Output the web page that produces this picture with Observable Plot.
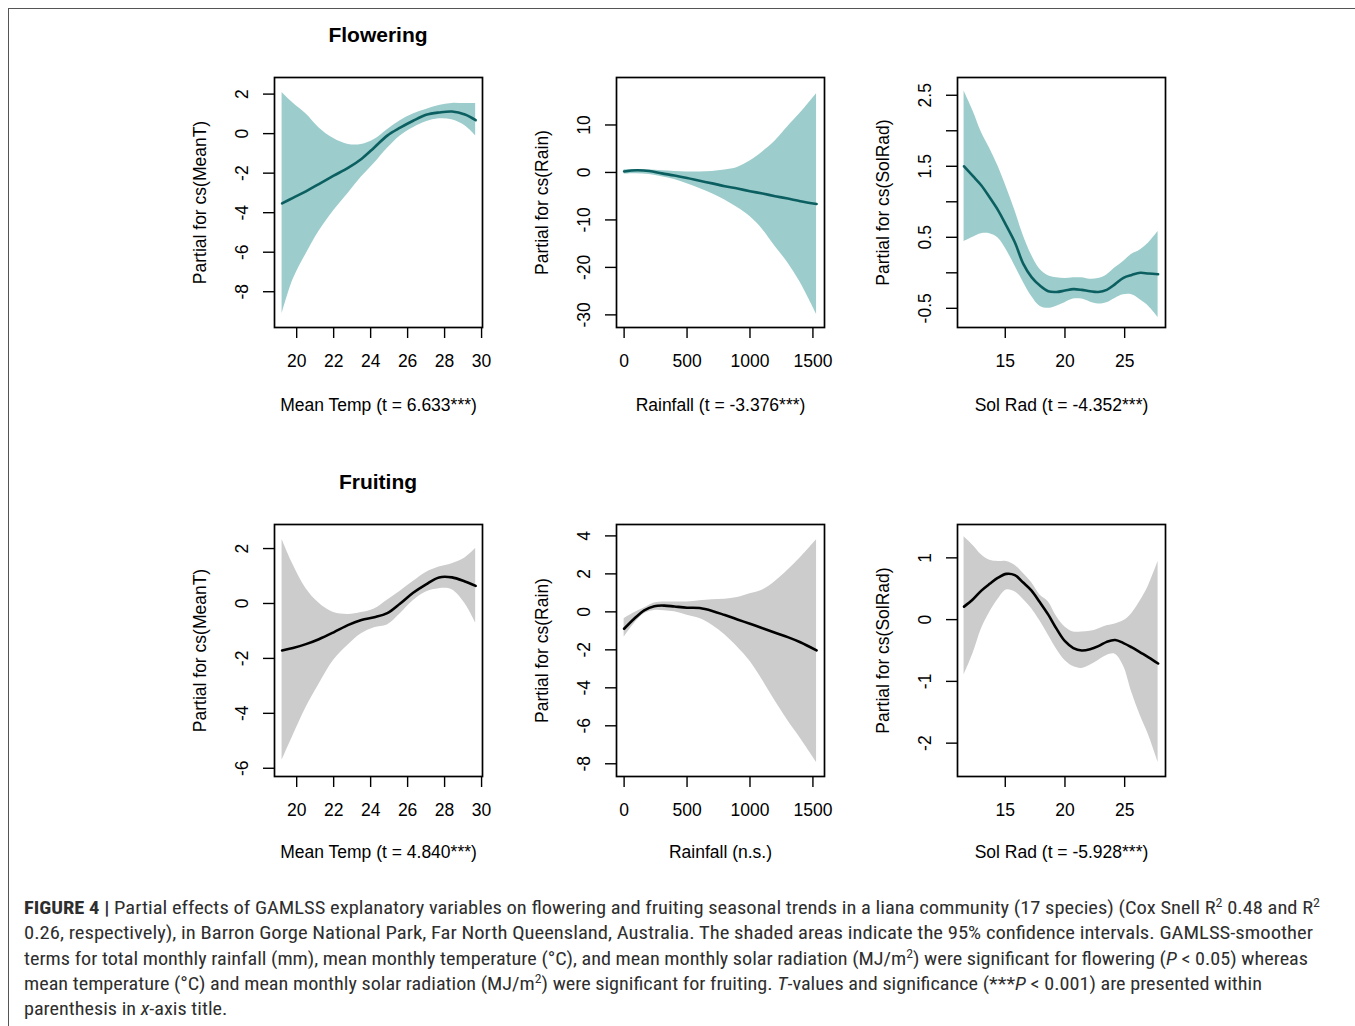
<!DOCTYPE html>
<html><head><meta charset="utf-8">
<script src="https://cdn.jsdelivr.net/npm/d3@7"></script>
<script src="https://cdn.jsdelivr.net/npm/@observablehq/plot@0.6"></script>
<style>
body{margin:0;background:#fff;}
#page{position:relative;width:1355px;height:1026px;overflow:hidden;font-family:"Liberation Sans",Arial,sans-serif;background:#fff;}
#frame{position:absolute;left:8px;top:8px;width:1400px;height:1100px;border-top:1.5px solid #555;border-left:1.5px solid #555;}
.title{position:absolute;font-weight:bold;font-size:21px;line-height:24px;width:208px;text-align:center;color:#000;}
.panel{position:absolute;}
#caption{position:absolute;left:24px;top:895px;font-family:"Liberation Sans Narrow","Roboto Condensed",Roboto,sans-serif;font-size:18px;line-height:25.3px;color:#2e2e2e;}
#caption div{white-space:nowrap;transform-origin:0 50%;width:max-content;}
#caption sup{font-size:0.68em;vertical-align:0.55em;line-height:0;}
</style>
</head><body>
<div id="page">
  <div id="frame"></div>
  <div class="title" style="left:274px;top:23px;">Flowering</div>
  <div class="title" style="left:274px;top:470px;">Fruiting</div>
  <div id="caption">
    <div><b>FIGURE 4 |</b> Partial effects of GAMLSS explanatory variables on flowering and fruiting seasonal trends in a liana community (17 species) (Cox Snell R<sup>2</sup> 0.48 and R<sup>2</sup></div>
    <div>0.26, respectively), in Barron Gorge National Park, Far North Queensland, Australia. The shaded areas indicate the 95% confidence intervals. GAMLSS-smoother</div>
    <div>terms for total monthly rainfall (mm), mean monthly temperature (°C), and mean monthly solar radiation (MJ/m<sup>2</sup>) were significant for flowering (<i>P</i> &lt; 0.05) whereas</div>
    <div>mean temperature (°C) and mean monthly solar radiation (MJ/m<sup>2</sup>) were significant for fruiting. <i>T</i>-values and significance (***<i>P</i> &lt; 0.001) are presented within</div>
    <div>parenthesis in <i>x</i>-axis title.</div>
  </div>
</div>
<script>
// ---------- Flowering: Mean Temp ----------
const flowTempX   = [19.21, 19.8, 20.5, 21.2, 22, 22.8, 23.5, 24.2, 24.9, 25.6, 26.3, 27, 27.7, 28.4, 29.1, 29.68];
const flowTempFit = [-3.53, -3.25, -2.92, -2.55, -2.13, -1.72, -1.28, -0.7, -0.1, 0.3, 0.65, 0.95, 1.07, 1.12, 0.97, 0.68];
const flowTempLo  = [-9.13, -7.4, -6.1, -4.95, -3.9, -3.0, -2.2, -1.5, -0.75, -0.12, 0.3, 0.6, 0.75, 0.7, 0.4, -0.11];
const flowTempHi  = [2.08, 1.55, 1.0, 0.3, -0.25, -0.55, -0.55, -0.3, 0.2, 0.65, 0.99, 1.22, 1.42, 1.53, 1.52, 1.53];

// ---------- Flowering: Rainfall ----------
const flowRainX   = [0, 100, 200, 300, 400, 500, 600, 700, 800, 900, 1000, 1100, 1200, 1300, 1400, 1529];
const flowRainFit = [0.21, 0.45, 0.3, -0.2, -0.65, -1.17, -1.75, -2.3, -2.9, -3.4, -3.95, -4.45, -5.0, -5.5, -6.05, -6.64];
const flowRainLo  = [-0.35, -0.3, -0.45, -0.9, -1.5, -2.4, -3.4, -4.5, -5.8, -7.4, -9.3, -12.0, -15.6, -19.0, -23.2, -29.9];
const flowRainHi  = [0.56, 0.6, 0.5, 0.35, 0.2, 0.1, 0.1, 0.2, 0.5, 1.05, 2.4, 4.3, 6.6, 9.6, 12.5, 16.6];

// ---------- Flowering: Sol Rad ----------
const flowSolX   = [11.55, 12.3, 13.0, 13.7, 14.4, 15.1, 15.8, 16.5, 17.2, 17.9, 18.6, 19.3, 20.0, 20.7, 21.4, 22.1, 22.8, 23.5, 24.2, 24.9, 25.6, 26.3, 27.0, 27.8];
const flowSolFit = [1.50, 1.36, 1.23, 1.06, 0.88, 0.66, 0.43, 0.13, -0.06, -0.18, -0.26, -0.27, -0.25, -0.23, -0.24, -0.26, -0.27, -0.24, -0.16, -0.07, -0.03, 0.0, -0.01, -0.02];
const flowSolLo  = [0.44, 0.5, 0.55, 0.55, 0.49, 0.32, 0.1, -0.13, -0.33, -0.47, -0.5, -0.47, -0.42, -0.37, -0.37, -0.41, -0.44, -0.42, -0.36, -0.31, -0.31, -0.38, -0.47, -0.63];
const flowSolHi  = [2.56, 2.28, 1.98, 1.75, 1.5, 1.2, 0.88, 0.53, 0.25, 0.05, -0.04, -0.07, -0.08, -0.07, -0.07, -0.09, -0.08, -0.03, 0.07, 0.16, 0.26, 0.32, 0.42, 0.58];

// ---------- Fruiting: Mean Temp ----------
const fruitTempX   = [19.21, 19.8, 20.5, 21.2, 22, 22.8, 23.5, 24.2, 24.9, 25.6, 26.3, 27, 27.7, 28.4, 29.1, 29.68];
const fruitTempFit = [-1.71, -1.62, -1.48, -1.3, -1.05, -0.78, -0.6, -0.5, -0.35, 0.0, 0.39, 0.7, 0.95, 0.95, 0.8, 0.64];
const fruitTempLo  = [-5.72, -4.82, -3.8, -2.95, -2.07, -1.5, -1.1, -0.88, -0.78, -0.37, 0.1, 0.42, 0.54, 0.5, 0.0, -0.71];
const fruitTempHi  = [2.33, 1.42, 0.55, 0.02, -0.33, -0.4, -0.33, -0.2, 0.12, 0.45, 0.8, 1.13, 1.33, 1.45, 1.66, 2.0];

// ---------- Fruiting: Rainfall ----------
const fruitRainX   = [0, 80, 160, 240, 320, 400, 500, 600, 700, 800, 900, 1000, 1100, 1200, 1300, 1400, 1529];
const fruitRainFit = [-0.89, -0.36, 0.08, 0.3, 0.33, 0.28, 0.22, 0.2, 0.05, -0.17, -0.4, -0.63, -0.86, -1.1, -1.33, -1.6, -2.03];
const fruitRainLo  = [-1.33, -0.62, -0.1, 0.07, 0.06, 0.0, -0.18, -0.35, -0.7, -1.2, -1.85, -2.6, -3.6, -4.7, -5.72, -6.65, -7.92];
const fruitRainHi  = [-0.36, -0.05, 0.2, 0.47, 0.52, 0.52, 0.52, 0.58, 0.64, 0.66, 0.75, 0.95, 1.15, 1.6, 2.19, 2.85, 3.8];

// ---------- Fruiting: Sol Rad ----------
const fruitSolX   = [11.55, 12.3, 13.0, 13.7, 14.4, 15.1, 15.8, 16.5, 17.2, 17.9, 18.6, 19.3, 20.0, 20.7, 21.4, 22.1, 22.8, 23.5, 24.2, 24.9, 25.6, 26.3, 27.0, 27.8];
const fruitSolFit = [0.21, 0.33, 0.47, 0.58, 0.68, 0.74, 0.72, 0.6, 0.47, 0.28, 0.08, -0.15, -0.35, -0.46, -0.5, -0.48, -0.43, -0.36, -0.33, -0.38, -0.45, -0.53, -0.61, -0.71];
const fruitSolLo  = [-0.9, -0.55, -0.15, 0.12, 0.33, 0.48, 0.45, 0.33, 0.18, -0.02, -0.25, -0.48, -0.66, -0.76, -0.79, -0.74, -0.66, -0.58, -0.56, -0.75, -1.18, -1.55, -1.87, -2.31];
const fruitSolHi  = [1.34, 1.2, 1.05, 0.96, 0.94, 0.94, 0.88, 0.75, 0.6, 0.4, 0.29, 0.05, -0.12, -0.2, -0.2, -0.19, -0.15, -0.1, -0.07, -0.02, 0.1, 0.3, 0.55, 0.94];

// ---------- axis ticks & labels ----------
const tempTicks = [20, 22, 24, 26, 28, 30];
const rainTicks = [0, 500, 1000, 1500];
const solTicks  = [15, 20, 25];
const flowTempYTicks  = [2, 0, -2, -4, -6, -8];
const flowRainYTicks  = [10, 0, -10, -20, -30];
const flowSolYTicks   = [2.5, 2, 1.5, 1, 0.5, 0, -0.5];
const flowSolYLabeled = [2.5, 1.5, 0.5, -0.5];
const fruitTempYTicks = [2, 0, -2, -4, -6];
const fruitRainYTicks = [4, 2, 0, -2, -4, -6, -8];
const fruitSolYTicks  = [1, 0, -1, -2];

const xLabels = {
  flowTemp: "Mean Temp (t = 6.633***)", flowRain: "Rainfall (t = -3.376***)", flowSol: "Sol Rad (t = -4.352***)",
  fruitTemp: "Mean Temp (t = 4.840***)", fruitRain: "Rainfall (n.s.)", fruitSol: "Sol Rad (t = -5.928***)"
};
const yLabels = {temp: "Partial for cs(MeanT)", rain: "Partial for cs(Rain)", sol: "Partial for cs(SolRad)"};

const teal = {band: "#9ccdcc", line: "#0c5f60"};
const grey = {band: "#cccccc", line: "#000000"};

const panels = [
  {x: flowTempX, fit: flowTempFit, lo: flowTempLo, hi: flowTempHi, xd: [18.8, 30.05], yd: [-9.81, 2.84], xt: tempTicks, yt: flowTempYTicks, xl: xLabels.flowTemp, yl: yLabels.temp, col: teal, left: 274, top: 77, h: 250, xdy: 83},
  {x: flowRainX, fit: flowRainFit, lo: flowRainLo, hi: flowRainHi, xd: [-60.5, 1592], yd: [-32.66, 20.0], xt: rainTicks, yt: flowRainYTicks, xl: xLabels.flowRain, yl: yLabels.rain, col: teal, left: 616, top: 77, h: 250, xdy: 83},
  {x: flowSolX, fit: flowSolFit, lo: flowSolLo, hi: flowSolHi, xd: [11.0, 28.42], yd: [-0.77, 2.75], xt: solTicks, yt: flowSolYTicks, yLab: flowSolYLabeled, xl: xLabels.flowSol, yl: yLabels.sol, col: teal, left: 957, top: 77, h: 250, xdy: 83},
  {x: fruitTempX, fit: fruitTempFit, lo: fruitTempLo, hi: fruitTempHi, xd: [18.8, 30.05], yd: [-6.30, 2.876], xt: tempTicks, yt: fruitTempYTicks, xl: xLabels.fruitTemp, yl: yLabels.temp, col: grey, left: 274, top: 524, h: 252, xdy: 81},
  {x: fruitRainX, fit: fruitRainFit, lo: fruitRainLo, hi: fruitRainHi, xd: [-60.5, 1592], yd: [-8.67, 4.60], xt: rainTicks, yt: fruitRainYTicks, xl: xLabels.fruitRain, yl: yLabels.rain, col: grey, left: 616, top: 524, h: 252, xdy: 81},
  {x: fruitSolX, fit: fruitSolFit, lo: fruitSolLo, hi: fruitSolHi, xd: [11.0, 28.42], yd: [-2.54, 1.54], xt: solTicks, yt: fruitSolYTicks, xl: xLabels.fruitSol, yl: yLabels.sol, col: grey, left: 957, top: 524, h: 252, xdy: 81}
];

const ML = 100, MR = 10, MT = 10, MB = 100, BW = 208;
const page = document.getElementById("page");
for (const p of panels) {
  const data = p.x.map((x, i) => ({x, fit: p.fit[i], lo: p.lo[i], hi: p.hi[i]}));
  const yfmt = p.yLab ? (d => p.yLab.includes(d) ? String(d) : "") : (d => String(d));
  const chart = Plot.plot({
    width: ML + BW + MR, height: MT + p.h + MB,
    marginLeft: ML, marginRight: MR, marginTop: MT, marginBottom: MB,
    style: {fontFamily: "'Liberation Sans', Arial, sans-serif", fontSize: "17.5px", color: "#000", background: "transparent", overflow: "visible"},
    x: {domain: p.xd},
    y: {domain: p.yd},
    marks: [
      Plot.areaY(data, {x: "x", y1: "lo", y2: "hi", fill: p.col.band, curve: "catmull-rom"}),
      Plot.line(data, {x: "x", y: "fit", stroke: p.col.line, strokeWidth: 2.6, curve: "catmull-rom"}),
      Plot.frame({stroke: "#000", strokeWidth: 1.7}),
      Plot.axisX({ticks: p.xt, tickSize: 11, tickPadding: 16, tickFormat: d => String(d), label: null, strokeWidth: 1.4}),
      Plot.axisY({ticks: p.yt, tickSize: 11, tickPadding: 16, tickRotate: -90, tickFormat: yfmt, label: null, strokeWidth: 1.4}),
      Plot.text([p.xl], {frameAnchor: "bottom", dy: p.xdy, fontSize: 17.5}),
      Plot.text([p.yl], {frameAnchor: "left", dx: -74, rotate: -90, textAnchor: "middle", lineAnchor: "middle", fontSize: 17.5})
    ]
  });
  const wrap = document.createElement("div");
  wrap.className = "panel";
  wrap.style.left = (p.left - ML) + "px";
  wrap.style.top = (p.top - MT) + "px";
  wrap.appendChild(chart);
  page.appendChild(wrap);
}

// fit caption lines to the reference widths
const rights = [1320, 1313, 1308, 1262];
function fitCaption() {
  const lines = document.querySelectorAll("#caption div");
  let last = 1;
  lines.forEach((el, i) => {
    el.style.transform = "none";
    const w = el.getBoundingClientRect().width;
    const s = i < rights.length ? (rights[i] - 24) / w : last;
    last = s;
    el.style.transform = `scaleX(${s})`;
  });
}
fitCaption();
if (document.fonts && document.fonts.ready) document.fonts.ready.then(fitCaption);
</script>
</body></html>
